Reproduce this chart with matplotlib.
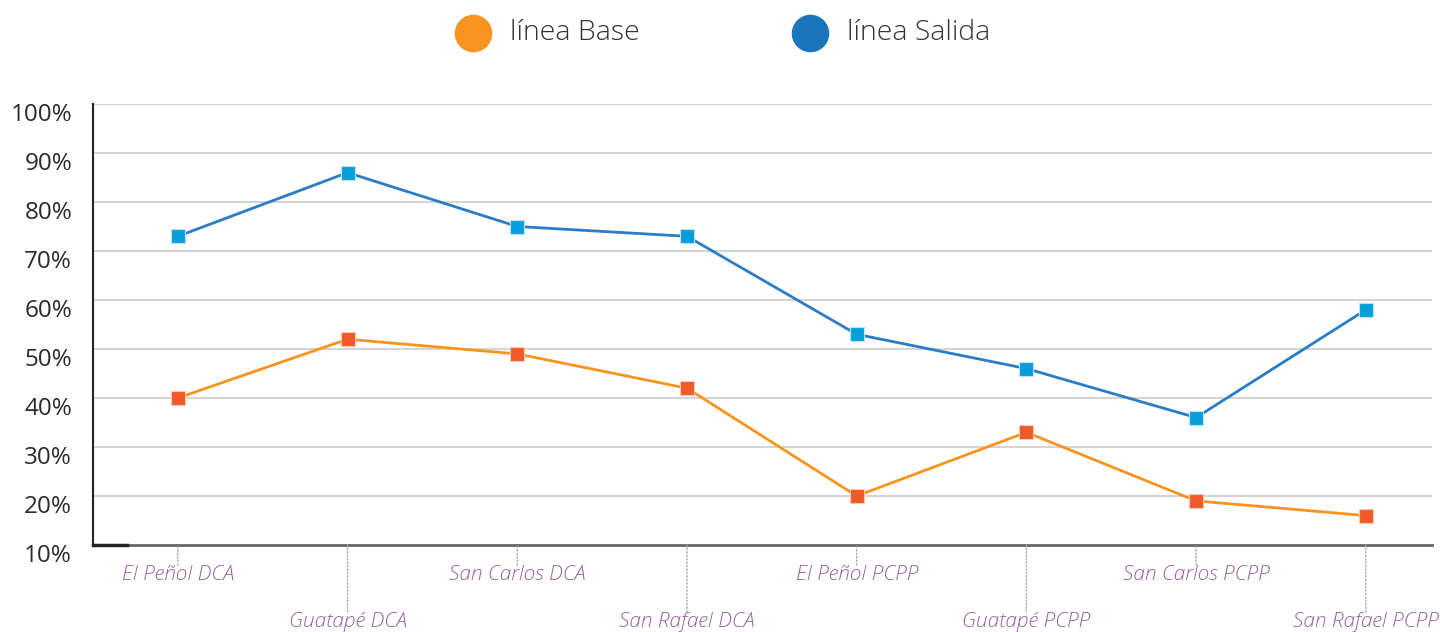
import matplotlib
matplotlib.use("Agg")
import matplotlib.pyplot as plt
from matplotlib.lines import Line2D
import matplotlib.transforms as mtransforms

categories = ["El Peñol DCA", "Guatapé DCA", "San Carlos DCA", "San Rafael DCA",
              "El Peñol PCPP", "Guatapé PCPP", "San Carlos PCPP", "San Rafael PCPP"]
linea_base = [40, 52, 49, 42, 20, 33, 19, 16]
linea_salida = [73, 86, 75, 73, 53, 46, 36, 58]
y_ticks = [10, 20, 30, 40, 50, 60, 70, 80, 90, 100]
y_labels = [f"{v}%" for v in y_ticks]
legend_labels = ["línea Base", "línea Salida"]
legend_colors = ["#f7931e", "#1b75bb"]

W, H = 1440, 632
fig = plt.figure(figsize=(W / 100, H / 100), dpi=100)
ax = fig.add_axes([93 / W, 1 - 545 / H, (1432 - 93) / W, (545 - 104) / H])

x = list(range(len(categories)))
ax.set_xlim(-0.5, 7.39)
ax.set_ylim(10, 100)

# gridlines
for v in y_ticks[1:]:
    ax.axhline(v, color="#d4d4d4", lw=1.5, zorder=1)

ax.plot(x, linea_salida, color="#2a7cc7", lw=2, zorder=3,
        marker="s", markersize=10, markerfacecolor="#039fdb",
        markeredgecolor="#bfe3f5", markeredgewidth=0.8)
ax.plot(x, linea_base, color="#f7941d", lw=2, zorder=3,
        marker="s", markersize=10, markerfacecolor="#f05a28",
        markeredgecolor="#fbc7b5", markeredgewidth=0.8)

for s in ["top", "right"]:
    ax.spines[s].set_visible(False)
ax.spines["left"].set_color("#222222")
ax.spines["left"].set_linewidth(1.5)
ax.spines["bottom"].set_color("#666666")
ax.spines["bottom"].set_linewidth(2)
ax.plot([0, 34 / (1432 - 93)], [0, 0], transform=ax.transAxes, color="#222222",
        lw=2.5, clip_on=False, zorder=4)

ax.set_yticks(y_ticks)
ax.set_yticklabels(y_labels, fontsize=17.5, color="#2b2b2b", family="Open Sans")
ax.tick_params(axis="y", length=0, pad=15)
offset = mtransforms.ScaledTranslation(0, -8 / 100, fig.dpi_scale_trans)
for lab in ax.get_yticklabels():
    lab.set_transform(lab.get_transform() + offset)

ax.set_xticks([])

# x labels with dotted leader lines
for i, cat in enumerate(categories):
    if i % 2 == 0:
        dy_line, dy_text = 20, 30
    else:
        dy_line, dy_text = 67, 77
    ax.annotate("", xy=(i, 0), xycoords=("data", "axes fraction"),
                xytext=(0, -dy_line), textcoords="offset pixels",
                arrowprops=dict(arrowstyle="-", color="#aaaaaa", lw=1,
                                linestyle=(0, (1, 1.5)), shrinkA=0, shrinkB=0),
                annotation_clip=False)
    ax.annotate(cat, xy=(i, 0), xycoords=("data", "axes fraction"),
                xytext=(0, -dy_text), textcoords="offset pixels",
                ha="center", va="center", fontsize=15, style="italic",
                color="#93619a", family="Open Sans", fontweight="light",
                annotation_clip=False)

# legend (manual placement)
legend_x = [473, 810]
for lx, lab, col in zip(legend_x, legend_labels, legend_colors):
    fig.add_artist(Line2D([lx / W], [1 - 33 / H], marker="o", markersize=26,
                          color=col, ls="none", transform=fig.transFigure))
    fig.text((lx + 37) / W, 1 - 33 / H, lab, ha="left", va="center",
             fontsize=20.5, color="#333333", family="Open Sans", fontweight="light")

fig.savefig("out.png", dpi=100)
